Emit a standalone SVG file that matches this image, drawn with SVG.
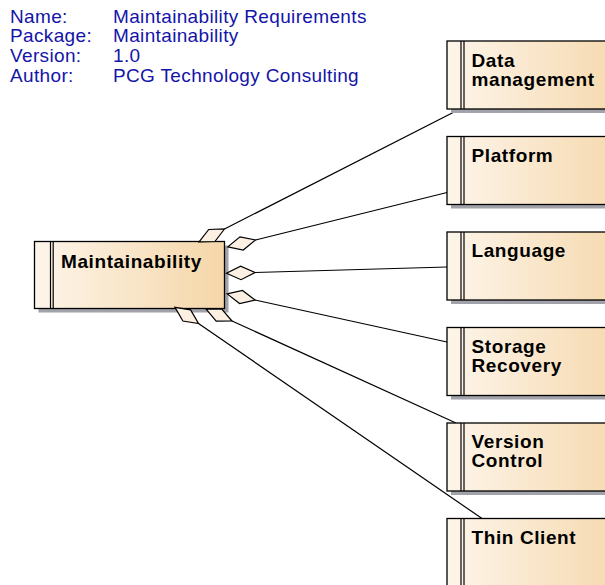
<svg xmlns="http://www.w3.org/2000/svg" width="605" height="585" viewBox="0 0 605 585">
  <defs>
    <linearGradient id="fillGrad" x1="0" y1="0" x2="1" y2="0">
      <stop offset="0" stop-color="#fdf5ea"/>
      <stop offset="1" stop-color="#f5d6a8"/>
    </linearGradient>
    <style>
      .hdr { font-family: "Liberation Sans", Arial, sans-serif; font-size: 19px; fill: #1414a8; letter-spacing: 0.35px; }
      .lbl { font-family: "Liberation Sans", Arial, sans-serif; font-size: 19px; font-weight: bold; fill: #000; letter-spacing: 0.6px; }
      .shadow { fill: #a2a2aa; }
      .box { fill: url(#fillGrad); stroke: #000; stroke-width: 1.3; }
      .bar { stroke: #000; stroke-width: 1.2; }
      .conn { stroke: #000; stroke-width: 1.2; fill: none; }
      .dia { fill: #fbf0e1; stroke: #000; stroke-width: 1.2; stroke-linejoin: miter; }
    </style>
  </defs>
  <rect width="605" height="585" fill="#ffffff"/>

  <!-- diagram properties -->
  <g id="header">
    <text class="hdr" x="10" y="22.7">Name:</text>
    <text class="hdr" x="113" y="22.7">Maintainability Requirements</text>
    <text class="hdr" x="10" y="42.3">Package:</text>
    <text class="hdr" x="113" y="42.3">Maintainability</text>
    <text class="hdr" x="10" y="62">Version:</text>
    <text class="hdr" x="113" y="62">1.0</text>
    <text class="hdr" x="10" y="81.7">Author:</text>
    <text class="hdr" x="113" y="81.7">PCG Technology Consulting</text>
  </g>

  <!-- aggregation connectors -->
  <g id="connectors">
    <line class="conn" x1="224.5" y1="229" x2="458" y2="110"/>
    <line class="conn" x1="255.5" y1="240" x2="447" y2="192.5"/>
    <line class="conn" x1="255" y1="272.5" x2="447" y2="267"/>
    <line class="conn" x1="255" y1="300" x2="447" y2="342"/>
    <line class="conn" x1="232" y1="321" x2="456" y2="423"/>
    <line class="conn" x1="198.5" y1="323.5" x2="482" y2="518.5"/>
  </g>

  <!-- source node -->
  <g id="node-maintainability">
    <rect class="shadow" x="38.5" y="245.5" width="190" height="67"/>
    <rect class="box" x="34.5" y="241.5" width="190" height="67"/>
    <line class="bar" x1="50.5" y1="241.5" x2="50.5" y2="308.5"/>
    <line class="bar" x1="53.2" y1="241.5" x2="53.2" y2="308.5"/>
    <text class="lbl" x="61" y="267.5">Maintainability</text>
  </g>

  <!-- aggregation diamonds at the whole end -->
  <g id="diamonds">
    <polygon class="dia" points="199.1,241.9 214.9,241.5 224.5,229 208.7,229.5"/>
    <polygon class="dia" points="227.8,246.9 243.3,250 255.5,240 240,236.9"/>
    <polygon class="dia" points="226.5,273.3 241,279.7 255,272.5 240.6,266.2"/>
    <polygon class="dia" points="227.2,293.9 239.6,303.5 255,300 242.5,290.4"/>
    <polygon class="dia" points="206.1,309.2 216.2,321.2 232,321 221.8,309"/>
    <polygon class="dia" points="175,307.4 182.9,321 198.5,323.5 190.6,309.9"/>
  </g>

  <!-- part nodes -->
  <g id="node-data-management">
    <rect class="shadow" x="451" y="45" width="190" height="68"/>
    <rect class="box" x="447" y="41" width="190" height="68"/>
    <line class="bar" x1="461" y1="41" x2="461" y2="109"/>
    <line class="bar" x1="464" y1="41" x2="464" y2="109"/>
    <text class="lbl" x="471.5" y="67">Data</text>
    <text class="lbl" x="471.5" y="86">management</text>
  </g>
  <g id="node-platform">
    <rect class="shadow" x="451" y="140.5" width="190" height="68"/>
    <rect class="box" x="447" y="136.5" width="190" height="68"/>
    <line class="bar" x1="461" y1="136.5" x2="461" y2="204.5"/>
    <line class="bar" x1="464" y1="136.5" x2="464" y2="204.5"/>
    <text class="lbl" x="471.5" y="161.5">Platform</text>
  </g>
  <g id="node-language">
    <rect class="shadow" x="451" y="236" width="190" height="68"/>
    <rect class="box" x="447" y="232" width="190" height="68"/>
    <line class="bar" x1="461" y1="232" x2="461" y2="300"/>
    <line class="bar" x1="464" y1="232" x2="464" y2="300"/>
    <text class="lbl" x="471.5" y="257">Language</text>
  </g>
  <g id="node-storage-recovery">
    <rect class="shadow" x="451" y="331.5" width="190" height="68"/>
    <rect class="box" x="447" y="327.5" width="190" height="68"/>
    <line class="bar" x1="461" y1="327.5" x2="461" y2="395.5"/>
    <line class="bar" x1="464" y1="327.5" x2="464" y2="395.5"/>
    <text class="lbl" x="471.5" y="353">Storage</text>
    <text class="lbl" x="471.5" y="372">Recovery</text>
  </g>
  <g id="node-version-control">
    <rect class="shadow" x="451" y="427" width="190" height="68"/>
    <rect class="box" x="447" y="423" width="190" height="68"/>
    <line class="bar" x1="461" y1="423" x2="461" y2="491"/>
    <line class="bar" x1="464" y1="423" x2="464" y2="491"/>
    <text class="lbl" x="471.5" y="448">Version</text>
    <text class="lbl" x="471.5" y="467">Control</text>
  </g>
  <g id="node-thin-client">
    <rect class="shadow" x="451" y="522.5" width="190" height="68"/>
    <rect class="box" x="447" y="518.5" width="190" height="68"/>
    <line class="bar" x1="461" y1="518.5" x2="461" y2="586.5"/>
    <line class="bar" x1="464" y1="518.5" x2="464" y2="586.5"/>
    <text class="lbl" x="471.5" y="543.5">Thin Client</text>
  </g>
</svg>
